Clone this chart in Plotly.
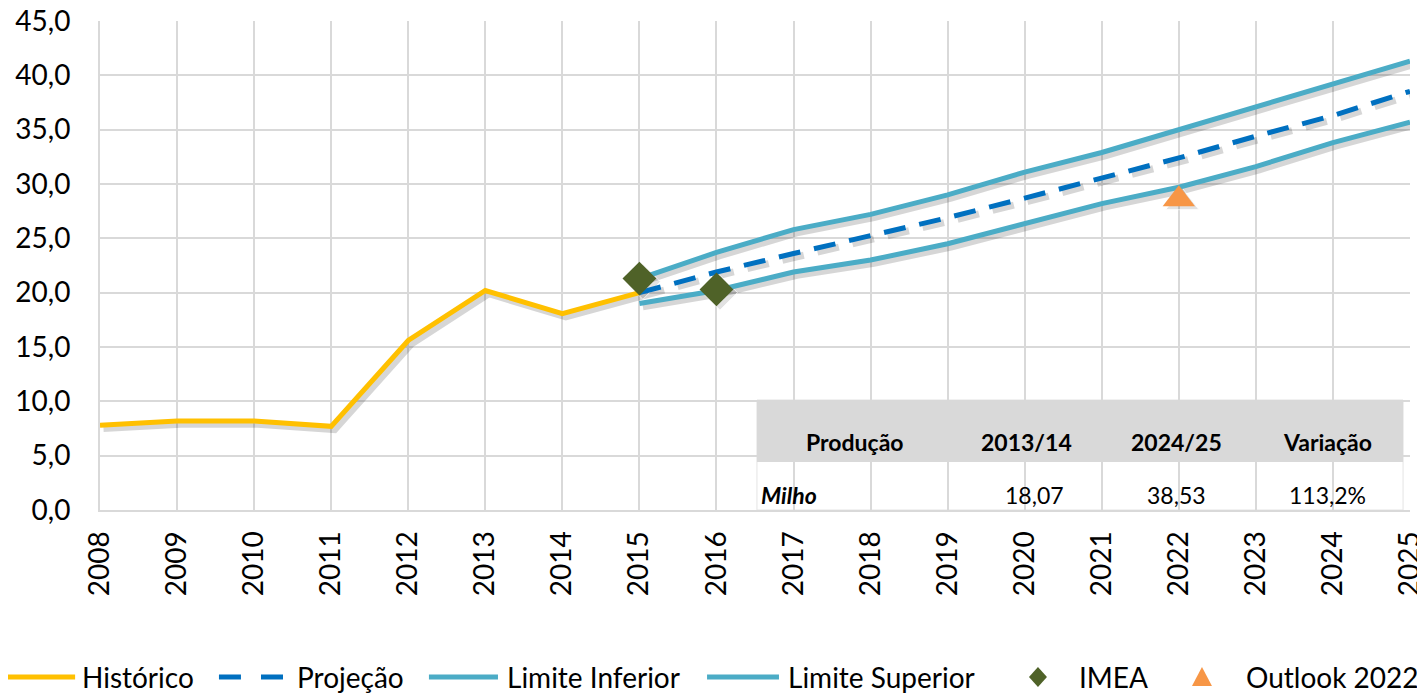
import plotly.graph_objects as go

# dados (milhões de t)
anos_hist = [2008, 2009, 2010, 2011, 2012, 2013, 2014, 2015]
historico = [7.8, 8.2, 8.2, 7.7, 15.6, 20.2, 18.07, 20.0]

anos_proj = [2015, 2016, 2017, 2018, 2019, 2020, 2021, 2022, 2023, 2024, 2025]
projecao = [20.0, 21.9, 23.6, 25.2, 26.9, 28.7, 30.5, 32.4, 34.4, 36.3, 38.53]
lim_inf = [19.0, 20.2, 21.9, 23.0, 24.5, 26.3, 28.2, 29.7, 31.6, 33.8, 35.7]
lim_sup = [21.3, 23.7, 25.8, 27.2, 29.0, 31.1, 32.9, 35.0, 37.0, 39.1, 41.3]

anos_imea = [2015, 2016]
imea = [21.3, 20.3]
anos_outlook = [2022]
outlook = [28.6]

tab_cab = ["Produção", "2013/14", "2024/25", "Variação"]
tab_linha = ["Milho", "18,07", "38,53", "113,2%"]

fonte = "Lato"
amarelo, azul, ciano, verde, laranja = "#FFC000", "#0070C0", "#4BACC6", "#4F6228", "#F79646"
sombra = "rgba(0,0,0,0.16)"
dx, dy = 0.045, -0.3

fig = go.Figure()

# sombras das linhas (estilo excel)
for xs, ys in [(anos_hist, historico), (anos_proj, lim_inf), (anos_proj, lim_sup)]:
    fig.add_trace(go.Scatter(x=[v + dx for v in xs], y=[v + dy for v in ys], mode="lines",
                             line=dict(color=sombra, width=7), hoverinfo="skip"))
fig.add_trace(go.Scatter(x=[v + dx for v in anos_proj], y=[v + dy for v in projecao], mode="lines",
                         line=dict(color=sombra, width=7, dash="22px,14px"), hoverinfo="skip"))
fig.add_trace(go.Scatter(x=[v + dx for v in anos_imea + anos_outlook],
                         y=[v + dy for v in imea + outlook], mode="markers",
                         marker=dict(symbol=["diamond", "diamond", "triangle-up"], color=sombra,
                                     size=[27, 27, 29]), hoverinfo="skip"))

fig.add_trace(go.Scatter(x=anos_hist, y=historico, name="Histórico", mode="lines",
                         line=dict(color=amarelo, width=5)))
fig.add_trace(go.Scatter(x=anos_proj, y=projecao, name="Projeção", mode="lines",
                         line=dict(color=azul, width=5, dash="22px,14px")))
fig.add_trace(go.Scatter(x=anos_proj, y=lim_inf, name="Limite Inferior", mode="lines",
                         line=dict(color=ciano, width=5)))
fig.add_trace(go.Scatter(x=anos_proj, y=lim_sup, name="Limite Superior", mode="lines",
                         line=dict(color=ciano, width=5)))
fig.add_trace(go.Scatter(x=anos_imea, y=imea, name="IMEA", mode="markers",
                         marker=dict(symbol="diamond", color=verde, size=26)))
fig.add_trace(go.Scatter(x=anos_outlook, y=outlook, name="Outlook 2022", mode="markers",
                         marker=dict(symbol="triangle-up", color=laranja, size=28)))

# tabela dentro do gráfico
x0, x1 = 0.5015, 0.9947
fig.add_shape(type="rect", xref="paper", yref="paper", x0=x0, x1=x1, y0=0, y1=0.225,
              fillcolor="white", line=dict(color="#E4E4E4", width=1), layer="between")
fig.add_shape(type="rect", xref="paper", yref="paper", x0=x0, x1=x1, y0=0.098, y1=0.225,
              fillcolor="#D9D9D9", line=dict(width=0), layer="between")
cols = [0.576, 0.707, 0.822, 0.937]
for i, t in enumerate(tab_cab):
    fig.add_annotation(x=cols[i], y=0.139, xref="paper", yref="paper", text="<b>" + t + "</b>",
                       showarrow=False, xanchor="center", yanchor="middle",
                       font=dict(family=fonte, size=23, color="black"))
fig.add_annotation(x=0.503, y=0.031, xref="paper", yref="paper", text="<b><i>" + tab_linha[0] + "</i></b>",
                   showarrow=False, xanchor="left", yanchor="middle",
                   font=dict(family=fonte, size=23, color="black"))
for i, t in enumerate(tab_linha[1:]):
    fig.add_annotation(x=[0.713, 0.822, 0.937][i], y=0.031, xref="paper", yref="paper", text=t,
                       showarrow=False, xanchor="center", yanchor="middle",
                       font=dict(family=fonte, size=23, color="black"))

# legenda desenhada à mão (linhas longas como no excel)
ly = -0.3415
legenda = [
    ("Histórico", "linha", amarelo, [(-0.074, -0.019)], -0.0153),
    ("Projeção", "linha", azul, [(0.0908, 0.1076), (0.1229, 0.1397)], 0.1489),
    ("Limite Inferior", "linha", ciano, [(0.2511, 0.3038)], 0.3092),
    ("Limite Superior", "linha", ciano, [(0.4634, 0.5183)], 0.5237),
    ("IMEA", "losango", verde, [(0.716, 0.716)], 0.7458),
    ("Outlook 2022", "triangulo", laranja, [(0.8412, 0.8412)], 0.8733),
]
for nome, tipo, cor, segs, xt in legenda:
    if tipo == "linha":
        for a, b in segs:
            fig.add_shape(type="line", xref="paper", yref="paper", x0=a, x1=b, y0=ly, y1=ly,
                          line=dict(color=cor, width=5))
    else:
        cx = segs[0][0]
        path = "M0,10 L9,0 L0,-10 L-9,0 Z" if tipo == "losango" else "M-10,-9 L10,-9 L0,10 Z"
        fig.add_shape(type="path", xref="paper", yref="paper", xsizemode="pixel", ysizemode="pixel",
                      xanchor=cx, yanchor=ly, path=path, fillcolor=cor, line=dict(width=0))
    fig.add_annotation(x=xt, y=ly, xref="paper", yref="paper", text=nome, showarrow=False,
                       xanchor="left", yanchor="middle", font=dict(family=fonte, size=28, color="black"))

fig.update_layout(
    width=1417, height=686,
    margin=dict(l=92, r=15, t=13, b=184, autoexpand=False),
    plot_bgcolor="white", paper_bgcolor="white",
    font=dict(family=fonte, size=28, color="black"),
    showlegend=False,
    xaxis=dict(range=[2008, 2025], tickmode="linear", dtick=1, tickangle=-90,
               showgrid=True, gridcolor="#D9D9D9", gridwidth=2, zeroline=False,
               showline=True, linecolor="#D9D9D9", linewidth=2, ticks="",
               tickfont=dict(size=28), ticklabelstandoff=8, ticklabeloverflow="allow",
               automargin=False),
    yaxis=dict(range=[0, 45], tickmode="linear", dtick=5, tickformat=".1f",
               showgrid=True, gridcolor="#D9D9D9", gridwidth=2,
               zeroline=False, showline=True, linecolor="#D9D9D9", linewidth=2,
               ticks="", tickfont=dict(size=28), ticklabelstandoff=22, ticklabeloverflow="allow",
               automargin=False),
    separators=", ",
)

fig.write_html("out.html")
